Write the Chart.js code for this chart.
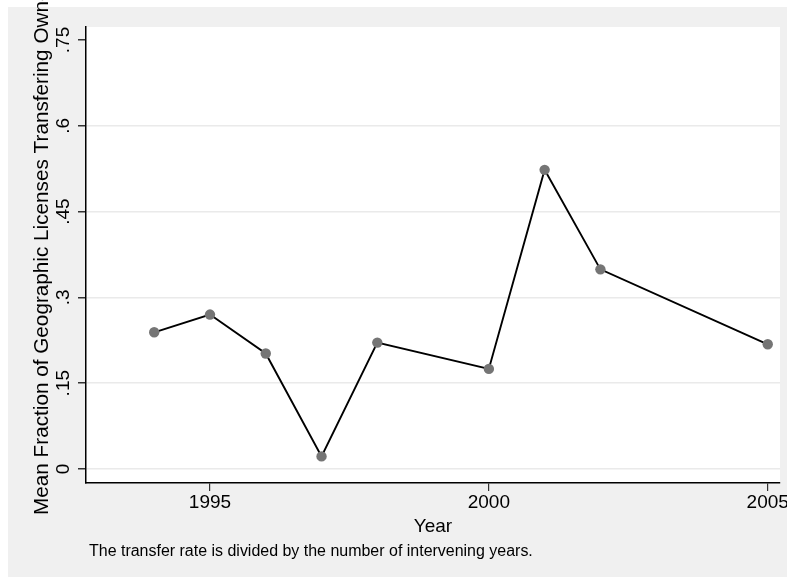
<!DOCTYPE html>
<html>
<head>
<meta charset="utf-8">
<script src="https://cdn.jsdelivr.net/npm/chart.js@4.4.1/dist/chart.umd.min.js"></script>
<style>
  html, body { margin: 0; padding: 0; background: #fff; }
  canvas { display: block; }
</style>
</head>
<body>
<canvas id="chart" width="787" height="578"></canvas>
<script>
// data
const years = [1994, 1995, 1996, 1997, 1998, 2000, 2001, 2002, 2005];
const fractions = [0.239, 0.270, 0.202, 0.022, 0.221, 0.175, 0.523, 0.349, 0.218];

const xTicks = [1995, 2000, 2005];
const yTicks = [0, 0.15, 0.3, 0.45, 0.6, 0.75];
const yTickLabels = ['0', '.15', '.3', '.45', '.6', '.75'];

const xTitle = 'Year';
const yTitle = 'Mean Fraction of Geographic Licenses Transfering Ownership';
const note = 'The transfer rate is divided by the number of intervening years.';

const FONT = '"Liberation Sans", Arial, Helvetica, sans-serif';

// size a font so a piece of text takes a given width
function fitFont(ctx, text, width) {
    ctx.font = '100px ' + FONT;
    return 100 * width / ctx.measureText(text).width;
}

const stataLook = {
    id: 'stataLook',
    beforeDraw(chart) {
        const ctx = chart.ctx;
        const a = chart.chartArea;
        ctx.save();
        ctx.fillStyle = '#ffffff';
        ctx.fillRect(0, 0, chart.width, chart.height);
        ctx.fillStyle = '#f0f0f0';
        ctx.fillRect(8, 7, chart.width - 8, chart.height - 8);
        ctx.fillStyle = '#ffffff';
        ctx.fillRect(a.left, a.top, a.right - a.left, a.bottom - a.top);
        ctx.restore();
    },
    afterDraw(chart) {
        const ctx = chart.ctx;
        const a = chart.chartArea;
        const ys = chart.scales.y;
        ctx.save();
        ctx.fillStyle = '#000';

        // rotated y tick labels
        ctx.font = '19px ' + FONT;
        ctx.textAlign = 'center';
        ctx.textBaseline = 'alphabetic';
        yTicks.forEach((v, i) => {
            const py = ys.getPixelForValue(v);
            ctx.save();
            ctx.translate(a.left - 17, py);
            ctx.rotate(-Math.PI / 2);
            ctx.fillText(yTickLabels[i], 0, 0);
            ctx.restore();
        });

        // y axis title, runs off the top like the original
        const ySize = fitFont(ctx, 'Mean Fraction of Geographic Licenses Transfering Own', 514);
        ctx.font = ySize.toFixed(2) + 'px ' + FONT;
        ctx.textAlign = 'left';
        ctx.save();
        ctx.translate(48, 515);
        ctx.rotate(-Math.PI / 2);
        ctx.fillText(yTitle, 0, 0);
        ctx.restore();

        // x axis title
        ctx.font = '19px ' + FONT;
        ctx.textAlign = 'center';
        ctx.fillText(xTitle, (a.left + a.right) / 2, 532);

        // note
        const nSize = fitFont(ctx, note, 444);
        ctx.font = nSize.toFixed(2) + 'px ' + FONT;
        ctx.textAlign = 'left';
        ctx.fillText(note, 89, 556);
        ctx.restore();
    }
};

const ctx = document.getElementById('chart').getContext('2d');
new Chart(ctx, {
    type: 'line',
    data: {
        datasets: [{
            data: years.map((y, i) => ({ x: y, y: fractions[i] })),
            borderColor: '#000',
            borderWidth: 1.9,
            tension: 0,
            pointRadius: 5.2,
            pointHoverRadius: 5.2,
            pointBackgroundColor: '#757575',
            pointBorderWidth: 0,
            fill: false
        }]
    },
    options: {
        responsive: false,
        animation: false,
        events: [],
        layout: { padding: { left: 0, top: 27, right: 7, bottom: 0 } },
        plugins: {
            legend: { display: false },
            tooltip: { enabled: false }
        },
        scales: {
            x: {
                type: 'linear',
                min: 1992.777,
                max: 2005.22,
                afterBuildTicks: s => { s.ticks = xTicks.map(v => ({ value: v })); },
                afterFit: s => { s.height = 95; s.paddingLeft = 0; s.paddingRight = 0; },
                border: { color: '#000', width: 1.5 },
                grid: { drawOnChartArea: false, tickLength: 8, tickColor: '#333', lineWidth: 1.2 },
                ticks: {
                    padding: 0,
                    maxRotation: 0,
                    color: '#000',
                    font: { family: FONT, size: 19 },
                    callback: v => String(v)
                }
            },
            y: {
                type: 'linear',
                min: -0.02448,
                max: 0.7727,
                afterBuildTicks: s => { s.ticks = yTicks.map(v => ({ value: v })); },
                afterFit: s => { s.width = 86; s.paddingTop = 0; s.paddingBottom = 0; },
                border: { color: '#000', width: 1.5 },
                grid: {
                    color: c => (c.tick && c.tick.value === 0.75) ? 'rgba(0,0,0,0)' : '#eaeaea',
                    lineWidth: 1.5,
                    tickLength: 8,
                    tickColor: '#333'
                },
                ticks: { display: false }
            }
        }
    },
    plugins: [stataLook]
});
</script>
</body>
</html>
